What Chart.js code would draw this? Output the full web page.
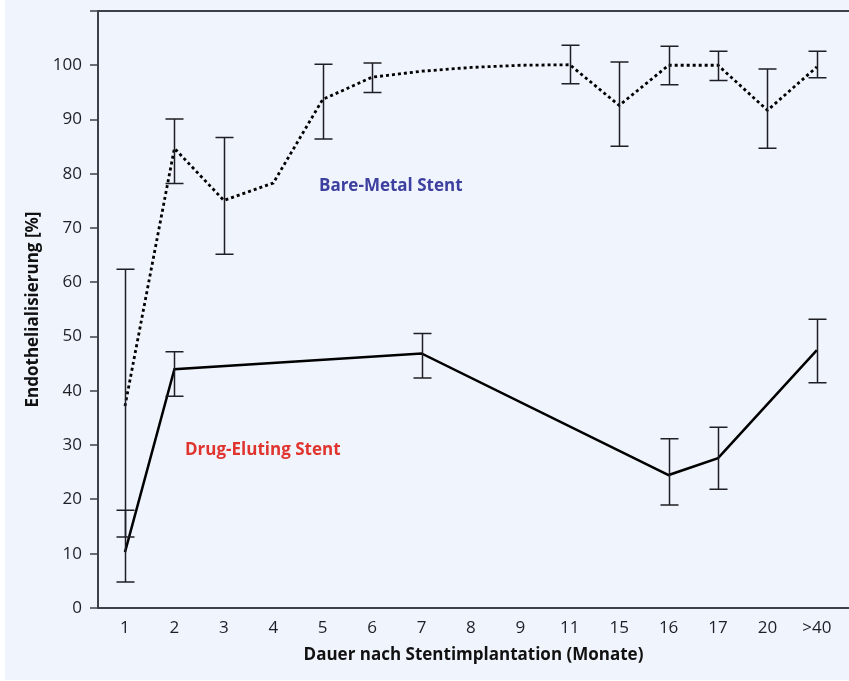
<!DOCTYPE html>
<html>
<head>
<meta charset="utf-8">
<script src="https://cdn.jsdelivr.net/npm/chart.js@4.4.0/dist/chart.umd.min.js"></script>
<style>
  html, body { margin: 0; padding: 0; background: #ffffff; }
  #wrap { position: relative; width: 849px; height: 681px; }
  canvas { display: block; }
</style>
</head>
<body>
<div id="wrap"><canvas id="c" width="849" height="681"></canvas></div>
<script>
// ---- data ----
const categories = ['1','2','3','4','5','6','7','8','9','11','15','16','17','20','>40'];
const bmsValues = [37.2, 84.7, 75.1, 78.3, 93.7, 97.8, 98.9, 99.6, 100.0, 100.1, 92.6, 100.0, 100.0, 91.7, 99.7];
const bmsLow    = [13.1, 78.2, 65.2, null, 86.4, 95.0, null, null, null, 96.6, 85.1, 96.4, 97.2, 84.7, 97.7];
const bmsHigh   = [62.4, 90.1, 86.7, null, 100.2, 100.4, null, null, null, 103.7, 100.6, 103.5, 102.6, 99.3, 102.6];
const desValues = [10.3, 44.0, null, null, null, null, 46.9, null, null, null, null, 24.5, 27.6, null, 47.5];
const desLow    = [4.8, 39.0, null, null, null, null, 42.4, null, null, null, null, 19.0, 21.9, null, 41.5];
const desHigh   = [18.0, 47.2, null, null, null, null, 50.6, null, null, null, null, 31.2, 33.3, null, 53.2];
const yTicks = [0,10,20,30,40,50,60,70,80,90,100,110];
const seriesLabels = ['Bare-Metal Stent', 'Drug-Eluting Stent'];
const xTitle = 'Dauer nach Stentimplantation (Monate)';
const yTitle = 'Endothelialisierung [%]';

const FONT = "'Open Sans', 'Noto Sans', sans-serif";
const AXIS = '#3d4048';

function toPoints(vals) {
  return vals.map((v, i) => ({ x: i + 1, y: v }));
}

const bgPlugin = {
  id: 'bg',
  beforeDraw(chart) {
    const ctx = chart.ctx;
    ctx.save();
    ctx.fillStyle = '#ffffff';
    ctx.fillRect(0, 0, chart.width, chart.height);
    ctx.fillStyle = '#f0f4fd';
    ctx.fillRect(5, 0, chart.width - 5, 680);
    ctx.restore();
  }
};

const errorBarPlugin = {
  id: 'errorBars',
  afterDatasetsDraw(chart) {
    const ctx = chart.ctx;
    const xs = chart.scales.x, ys = chart.scales.y;
    const sets = [[bmsLow, bmsHigh], [desLow, desHigh]];
    ctx.save();
    ctx.strokeStyle = '#1e1f24';
    ctx.lineWidth = 1.5;
    sets.forEach(([lo, hi]) => {
      lo.forEach((l, i) => {
        const h = hi[i];
        if (l == null || h == null) return;
        const px = Math.round(xs.getPixelForValue(i + 1)) + 0.5;
        const y1 = ys.getPixelForValue(l), y2 = ys.getPixelForValue(h);
        ctx.beginPath();
        ctx.moveTo(px, y1); ctx.lineTo(px, y2);
        ctx.moveTo(px - 9, y1); ctx.lineTo(px + 9, y1);
        ctx.moveTo(px - 9, y2); ctx.lineTo(px + 9, y2);
        ctx.stroke();
      });
    });
    ctx.restore();
  }
};

const labelPlugin = {
  id: 'seriesLabels',
  afterDraw(chart) {
    const ctx = chart.ctx;
    const xs = chart.scales.x, ys = chart.scales.y;
    ctx.save();
    ctx.font = "bold 17px " + FONT;
    ctx.textAlign = 'left';
    ctx.textBaseline = 'alphabetic';
    ctx.fillStyle = '#3e40a0';
    ctx.fillText(seriesLabels[0], xs.getPixelForValue(4.925), ys.getPixelForValue(76.8));
    ctx.fillStyle = '#e0352e';
    ctx.fillText(seriesLabels[1], xs.getPixelForValue(2.214), ys.getPixelForValue(28.2));
    ctx.restore();
  }
};

new Chart(document.getElementById('c'), {
  type: 'line',
  data: {
    datasets: [
      {
        label: seriesLabels[0],
        data: toPoints(bmsValues),
        borderColor: '#000000',
        borderWidth: 2.8,
        borderDash: [3, 3],
        borderCapStyle: 'butt',
        pointRadius: 0,
        tension: 0,
        fill: false
      },
      {
        label: seriesLabels[1],
        data: toPoints(desValues),
        borderColor: '#000000',
        borderWidth: 2.5,
        pointRadius: 0,
        tension: 0,
        spanGaps: true,
        fill: false
      }
    ]
  },
  options: {
    responsive: false,
    animation: false,
    devicePixelRatio: 1,
    layout: { padding: { top: 11, right: 0, bottom: 0, left: 0 } },
    plugins: { legend: { display: false }, tooltip: { enabled: false } },
    scales: {
      x: {
        type: 'linear',
        min: 0.454,
        max: 15.65,
        afterBuildTicks(scale) { scale.ticks = categories.map((c, i) => ({ value: i + 1 })); },
        afterFit(scale) { scale.height = 73; scale.paddingLeft = 0; scale.paddingRight = 0; },
        ticks: {
          color: '#1e1f24',
          font: { family: FONT, size: 17 },
          padding: 10,
          maxRotation: 0,
          autoSkip: false,
          callback: (v) => categories[v - 1] ?? ''
        },
        grid: { display: false, drawTicks: false },
        border: { display: true, color: AXIS, width: 2 },
        title: {
          display: true,
          text: xTitle,
          color: '#111111',
          font: { family: FONT, size: 17, weight: 'bold' },
          padding: { top: 0, bottom: 16 }
        }
      },
      y: {
        type: 'linear',
        min: 0,
        max: 110,
        afterBuildTicks(scale) { scale.ticks = yTicks.map(v => ({ value: v })); },
        afterFit(scale) { scale.width = 98; scale.paddingTop = 0; scale.paddingBottom = 0; },
        ticks: {
          color: '#1e1f24',
          font: { family: FONT, size: 17 },
          padding: 8,
          callback: (v) => (v === 110 ? '' : String(v))
        },
        grid: {
          drawTicks: true,
          tickLength: 8,
          tickColor: AXIS,
          tickWidth: 1.5,
          color: (c) => (c.tick && c.tick.value === 110 ? AXIS : 'rgba(0,0,0,0)'),
          lineWidth: (c) => (c.tick && c.tick.value === 110 ? 2 : 0)
        },
        border: { display: true, color: AXIS, width: 2 },
        title: {
          display: true,
          text: yTitle,
          color: '#111111',
          font: { family: FONT, size: 17, weight: 'bold' },
          padding: { top: 23, bottom: 0 }
        }
      }
    }
  },
  plugins: [bgPlugin, errorBarPlugin, labelPlugin]
});
</script>
</body>
</html>
